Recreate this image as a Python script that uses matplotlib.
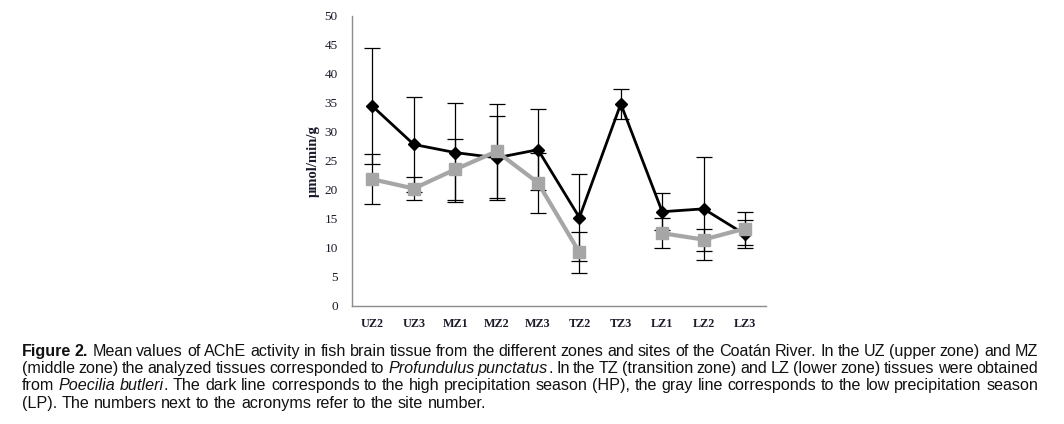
import numpy as np
import matplotlib
matplotlib.use("Agg")
import matplotlib.pyplot as plt
from matplotlib import font_manager

# ---- data ----
categories = ["UZ2", "UZ3", "MZ1", "MZ2", "MZ3", "TZ2", "TZ3", "LZ1", "LZ2", "LZ3"]
hp_mean = [34.4, 27.8, 26.4, 25.5, 26.9, 15.2, 34.8, 16.2, 16.7, 12.3]
hp_err = [10.0, 8.2, 8.6, 7.2, 7.0, 7.5, 2.6, 3.2, 8.9, 2.4]
lp_mean = [21.8, 20.2, 23.5, 26.6, 21.2, 9.2, np.nan, 12.5, 11.4, 13.3]
lp_err = [4.3, 2.0, 5.2, 8.1, 5.2, 3.5, np.nan, 2.6, 1.9, 2.8]
y_ticks = [0, 5, 10, 15, 20, 25, 30, 35, 40, 45, 50]
y_label = "µmol/min/g"

caption_lines = [
    [("Figure 2.", "bold"), (" Mean values of AChE activity in fish brain tissue from the different zones and sites of the Coatán River. In the UZ (upper zone) and MZ", "normal")],
    [("(middle zone) the analyzed tissues corresponded to ", "normal"), ("Profundulus punctatus", "italic"), (". In the TZ (transition zone) and LZ (lower zone) tissues were obtained", "normal")],
    [("from ", "normal"), ("Poecilia butleri", "italic"), (". The dark line corresponds to the high precipitation season (HP), the gray line corresponds to the low precipitation season", "normal")],
    [("(LP). The numbers next to the acronyms refer to the site number.", "normal")],
]

W, H = 1064, 424
fig = plt.figure(figsize=(W / 100, H / 100), dpi=100)
fig.patch.set_facecolor("white")

ax = fig.add_axes([351.7 / W, 1 - 305.7 / H, (765.7 - 351.7) / W, 290 / H])
x = np.arange(len(categories))

serif = ["Liberation Serif", "DejaVu Serif"]
txt_col = "#1a1a2a"

ax.errorbar(x, hp_mean, yerr=hp_err, fmt="none", ecolor="black", elinewidth=0.9,
            capsize=5.5, capthick=0.9, zorder=2)
ax.errorbar(x, lp_mean, yerr=lp_err, fmt="none", ecolor="black", elinewidth=0.9,
            capsize=5.5, capthick=0.9, zorder=2)
ax.plot(x, hp_mean, color="black", lw=2.0, marker="D", markersize=6.4,
        markerfacecolor="black", markeredgecolor="black", zorder=3)
ax.plot(x, lp_mean, color="#a6a6a6", lw=3.0, marker="s", markersize=8.5,
        markerfacecolor="#a6a6a6", markeredgecolor="#a6a6a6", zorder=4)

ax.set_xlim(-0.5, len(categories) - 0.5)
ax.set_ylim(0, 50)
ax.set_yticks(y_ticks)
ax.set_yticklabels([str(v) for v in y_ticks], family=serif, fontsize=9.5, color=txt_col)
ax.set_xticks(x)
ax.set_xticklabels(categories, family=serif, fontsize=8.7, fontweight="bold", color=txt_col)
ax.tick_params(axis="both", length=0)
ax.tick_params(axis="y", pad=10)
ax.tick_params(axis="x", pad=8.5)
for s in ["top", "right"]:
    ax.spines[s].set_visible(False)
for s in ["left", "bottom"]:
    ax.spines[s].set_color("#8c8c8c")
    ax.spines[s].set_linewidth(1.0)
ax.set_ylabel(y_label, family=serif, fontsize=10.5, fontweight="bold", color=txt_col, labelpad=3)

# ---- caption (justified) ----
avail = {f.name for f in font_manager.fontManager.ttflist}
cap_family = "Liberation Sans" if "Liberation Sans" in avail else "DejaVu Sans"
renderer = fig.canvas.get_renderer()
left_px, right_px = 21.7, 1038.0
target = right_px - left_px
baselines = [355.7, 373.0, 390.3, 407.6]
last_line_width = 468.0


def style_kw(st, fs):
    kw = dict(family=cap_family, fontsize=fs, color="#111111")
    if st == "bold":
        kw["fontweight"] = "bold"
    if st == "italic":
        kw["fontstyle"] = "italic"
    return kw


def words_of(segments):
    words, cur = [], []
    for text, st in segments:
        buf = ""
        for ch in text:
            if ch == " ":
                if buf:
                    cur.append((buf, st))
                    buf = ""
                if cur:
                    words.append(cur)
                    cur = []
            else:
                buf += ch
        if buf:
            cur.append((buf, st))
    if cur:
        words.append(cur)
    return words


def measure(s, st, fs):
    t = fig.text(0, 0, s, **style_kw(st, fs))
    w = t.get_window_extent(renderer).width
    t.remove()
    return w


def min_gap(fs):
    worst = 1e9
    for line in caption_lines[:3]:
        wl = words_of(line)
        wsum = sum(measure(p, st, fs) for w in wl for p, st in w)
        worst = min(worst, (target - wsum) / (len(wl) - 1))
    return worst


fs0 = 10.5
w4 = sum(measure(t, st, fs0) for t, st in caption_lines[3])
fs = fs0 * last_line_width / w4
while min_gap(fs) < 2.0 and fs > 7:
    fs -= 0.1

space_w = measure("a b", "normal", fs) - measure("ab", "normal", fs)
for i, line in enumerate(caption_lines):
    wl = words_of(line)
    widths = [[measure(p, st, fs) for p, st in w] for w in wl]
    wsum = sum(sum(w) for w in widths)
    if i < len(caption_lines) - 1 and len(wl) > 1:
        gap = (target - wsum) / (len(wl) - 1)
    else:
        gap = space_w
    xp = left_px
    yfig = 1 - baselines[i] / H
    for w, ws in zip(wl, widths):
        for (p, st), pw in zip(w, ws):
            fig.text(xp / W, yfig, p, ha="left", va="baseline", **style_kw(st, fs))
            xp += pw
        xp += gap

fig.savefig("out.png", dpi=100, facecolor="white")
